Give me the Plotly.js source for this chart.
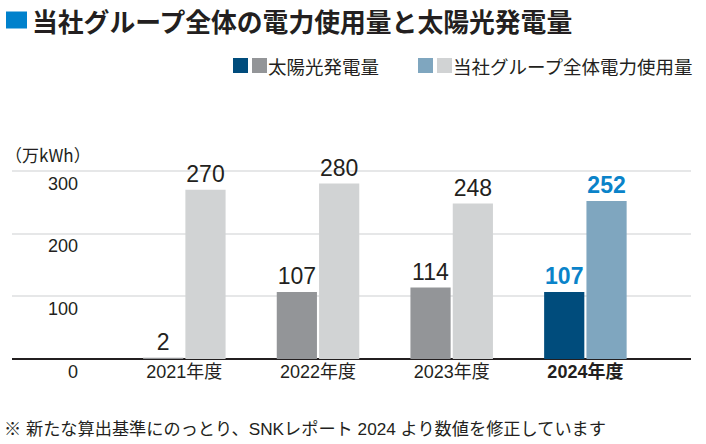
<!DOCTYPE html>
<html><head><meta charset="utf-8">
<script src="https://cdn.plot.ly/plotly-3.0.1.min.js"></script>
<style>html,body{margin:0;padding:0;background:#fff}</style>
</head><body>
<div id="chart" style="width:706px;height:444px"></div>
<script>
const categories = ['2021年度', '2022年度', '2023年度', '2024年度'];
const solarValues = [2, 107, 114, 107];
const usageValues = [270, 280, 248, 252];
const yTickValues = [0, 100, 200, 300];
const titleText = '当社グループ全体の電力使用量と太陽光発電量';
const solarName = '太陽光発電量';
const usageName = '当社グループ全体電力使用量';
const unitText = '（万kWh）';
const noteText = '※ 新たな算出基準にのっとり、SNKレポート 2024 より数値を修正しています';

const FONT = '"Liberation Sans", Arial, "Noto Sans CJK JP", sans-serif';
const CJK = '"Noto Sans CJK JP", sans-serif';
const TXT = '#231f20';
const solarColors = ['#939598', '#939598', '#939598', '#004c7c'];
const usageColors = ['#d1d3d4', '#d1d3d4', '#d1d3d4', '#7fa6bf'];
const labelColors = [TXT, TXT, TXT, '#0a83c9'];
const lastIdx = categories.length - 1;
const fmt = (v, i) => i === lastIdx ? '<b>' + v + '</b>' : String(v);

// plot area geometry (pixels)
const L = 12, R = 691, T = 169, B = 359;
const Y300 = 171;
const yTop = 300 * (B - T) / (B - Y300);
const px = x => (x - L) / (R - L);
const py = y => (B - y) / (B - T);

const traces = [
  {type: 'bar', name: solarName, x: categories, y: solarValues,
   marker: {color: solarColors, line: {width: 0}},
   text: solarValues.map(fmt), textposition: 'outside', cliponaxis: false,
   constraintext: 'none',
   textfont: {family: FONT, size: 23, color: labelColors}, hoverinfo: 'none'},
  {type: 'bar', name: usageName, x: categories, y: usageValues,
   marker: {color: usageColors, line: {width: 0}},
   text: usageValues.map(fmt), textposition: 'outside', cliponaxis: false,
   constraintext: 'none',
   textfont: {family: FONT, size: 23, color: labelColors}, hoverinfo: 'none'}
];

const annotations = [
  {xref: 'paper', yref: 'paper', x: px(30), y: py(20), xanchor: 'left', yanchor: 'middle',
   text: '<b>' + titleText + '</b>', showarrow: false,
   font: {family: CJK, size: 25.8, color: TXT}},
  {xref: 'paper', yref: 'paper', x: px(266), y: py(66), xanchor: 'left', yanchor: 'middle',
   text: solarName, showarrow: false,
   font: {family: CJK, size: 18.5, color: TXT}},
  {xref: 'paper', yref: 'paper', x: px(451), y: py(66), xanchor: 'left', yanchor: 'middle',
   text: usageName, showarrow: false,
   font: {family: CJK, size: 18.5, color: TXT}},
  {xref: 'paper', yref: 'paper', x: px(3), y: py(154), xanchor: 'left', yanchor: 'middle',
   text: unitText, showarrow: false,
   font: {family: CJK, size: 17, color: TXT}},
  {xref: 'paper', yref: 'paper', x: px(2), y: py(429), xanchor: 'left', yanchor: 'middle',
   text: noteText, showarrow: false,
   font: {family: FONT, size: 17.2, color: TXT}}
];
yTickValues.forEach(v => annotations.push({
  xref: 'paper', yref: 'y', x: px(80), y: v, yshift: -12.5, xanchor: 'right', yanchor: 'middle',
  text: String(v), showarrow: false, font: {family: FONT, size: 18, color: TXT}
}));

const sq = (x0, y0, size, color) => ({type: 'rect', xref: 'paper', yref: 'paper',
  x0: px(x0), x1: px(x0 + size), y0: py(y0 + size), y1: py(y0),
  fillcolor: color, line: {width: 0}});

const shapes = [
  {type: 'rect', xref: 'paper', yref: 'paper', x0: px(6), x1: px(27), y0: py(28.5), y1: py(11.5),
   fillcolor: '#0081cc', line: {width: 0}},
  sq(233, 58, 15, '#004c7c'),
  sq(252, 58, 15, '#939598'),
  sq(418, 58, 15, '#7fa6bf'),
  sq(437, 58, 15, '#d1d3d4')
];

const layout = {
  width: 706, height: 444,
  margin: {l: L, r: 706 - R, t: T, b: 444 - B, pad: 0},
  paper_bgcolor: '#fff', plot_bgcolor: '#fff',
  showlegend: false,
  barmode: 'group', bargap: 0.367, bargroupgap: 0.05,
  font: {family: FONT, color: TXT},
  xaxis: {type: 'category', range: [-1.289, 3.79], tickmode: 'array',
          tickvals: categories, ticktext: categories.map(fmt),
          ticks: '', showgrid: false, showline: false, zeroline: false,
          tickfont: {family: FONT, size: 18, color: TXT}, fixedrange: true},
  yaxis: {range: [0, yTop], tickmode: 'array', tickvals: yTickValues, showticklabels: false,
          showgrid: true, gridcolor: '#e6e7e8', gridwidth: 2,
          zeroline: true, zerolinecolor: '#231f20', zerolinewidth: 1.5,
          showline: false, ticks: '', fixedrange: true},
  annotations: annotations,
  shapes: shapes
};

Plotly.newPlot('chart', traces, layout, {displayModeBar: false, staticPlot: true});
</script>
</body></html>
